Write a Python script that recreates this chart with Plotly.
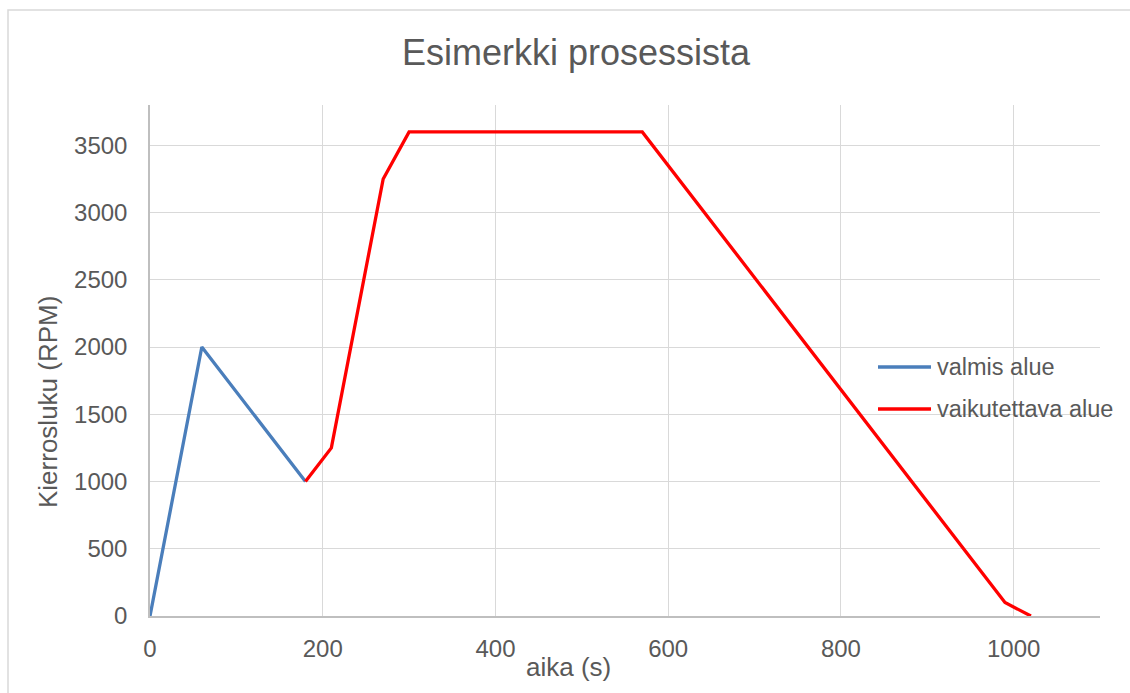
import plotly.graph_objects as go

# Data
valmis_x = [0, 60, 180]
valmis_y = [0, 2000, 1000]
vaik_x = [180, 210, 270, 300, 570, 990, 1020]
vaik_y = [1000, 1250, 3250, 3600, 3600, 100, 0]
series_names = ["valmis alue", "vaikutettava alue"]
x_ticks = [0, 200, 400, 600, 800, 1000]
y_ticks = [0, 500, 1000, 1500, 2000, 2500, 3000, 3500]

TXT = "#595959"
FONT = "Liberation Sans, Arial, sans-serif"
BLUE = "#4a7ebb"
RED = "#ff0000"

fig = go.Figure()
fig.add_trace(go.Scatter(x=valmis_x, y=valmis_y, mode="lines", name=series_names[0],
                         line=dict(color=BLUE, width=3.3), showlegend=False))
fig.add_trace(go.Scatter(x=vaik_x, y=vaik_y, mode="lines", name=series_names[1],
                         line=dict(color=RED, width=3.3), showlegend=False))

L, R, T, B = 150, 30, 105, 77
W, H = 1130, 693
pw, ph = W - L - R, H - T - B

def px(x):
    return (x - L) / pw

def py(y):
    return (H - B - y) / ph

fig.update_layout(
    width=W, height=H,
    margin=dict(l=L, r=R, t=T, b=B),
    paper_bgcolor="white", plot_bgcolor="white",
    font=dict(family=FONT, color=TXT, size=24),
    title=dict(text="Esimerkki prosessista", x=576 / W, xanchor="center",
               y=1 - 52 / H, yanchor="middle", yref="container",
               font=dict(size=36, color=TXT, family=FONT)),
    xaxis=dict(range=[0, 1100], tickvals=x_ticks, showgrid=True, gridcolor="#d9d9d9",
               gridwidth=1.3, showline=True, linecolor="#bfbfbf", linewidth=1.5,
               zeroline=False, ticks="outside", ticklen=10, tickcolor="rgba(0,0,0,0)",
               tickfont=dict(size=24, color=TXT)),
    yaxis=dict(range=[0, 3800], tickvals=y_ticks, showgrid=True, gridcolor="#d9d9d9",
               gridwidth=1.3, showline=True, linecolor="#bfbfbf", linewidth=1.5,
               zeroline=False, ticks="outside", ticklen=16, tickcolor="rgba(0,0,0,0)",
               tickfont=dict(size=24, color=TXT)),
    showlegend=False,
)

# chart border (left and top visible)
fig.add_shape(type="rect", xref="paper", yref="paper",
              x0=px(8), x1=px(1200), y0=py(10), y1=py(760),
              line=dict(color="#d9d9d9", width=1.5), fillcolor="rgba(0,0,0,0)", layer="below")

# axis titles
fig.add_annotation(text="aika (s)", xref="paper", yref="paper", x=px(568), y=py(667),
                   showarrow=False, xanchor="center", yanchor="middle",
                   font=dict(size=26, color=TXT, family=FONT))
fig.add_annotation(text="Kierrosluku (RPM)", xref="paper", yref="paper", x=px(48), y=py(402),
                   showarrow=False, xanchor="center", yanchor="middle", textangle=-90,
                   font=dict(size=26, color=TXT, family=FONT))

# legend
for name, color, yy in [(series_names[0], BLUE, 367), (series_names[1], RED, 409)]:
    fig.add_shape(type="line", xref="paper", yref="paper", x0=px(878), x1=px(931),
                  y0=py(yy), y1=py(yy), line=dict(color=color, width=3.3))
    fig.add_annotation(text=name, xref="paper", yref="paper", x=px(935), y=py(yy),
                       showarrow=False, xanchor="left", yanchor="middle",
                       font=dict(size=23.5, color=TXT, family=FONT))

fig.write_html("out.html", config={"displayModeBar": False},
               post_script="document.body.style.margin='0';document.body.style.overflow='hidden';")
